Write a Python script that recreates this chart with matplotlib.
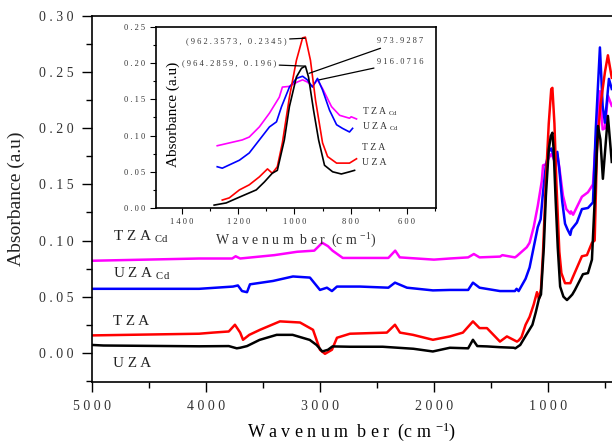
import numpy as np
import matplotlib
matplotlib.use('Agg')
import matplotlib.pyplot as plt
from matplotlib.ticker import MultipleLocator

plt.rcParams['font.family'] = ['Liberation Serif', 'DejaVu Serif']
plt.rcParams['mathtext.default'] = 'regular'

# UZA (black)
wn_uza = [5000, 4900, 4060, 3800, 3730, 3700, 3640, 3530, 3380, 3240, 3090, 3030, 2980, 2930, 2890,
          2740, 2450, 2180, 2010, 1860, 1700, 1658, 1620, 1535, 1420, 1300,
          1286, 1243, 1196, 1136, 1107, 1079, 1061, 1036, 1018, 993, 975, 961, 950, 932, 914, 893,
          864, 833, 804, 786, 763, 693, 649, 614, 588, 561, 540, 518, 474, 440]
a_uza = [0.007, 0.0065, 0.0058, 0.006, 0.004, 0.0045, 0.006, 0.0115, 0.016, 0.016, 0.0115, 0.007, 0.0012, 0.0027, 0.0057,
         0.0054, 0.0054, 0.0036, 0.0012, 0.0045, 0.004, 0.0116, 0.006, 0.0057, 0.005, 0.0045,
         0.004, 0.007, 0.015, 0.025, 0.036, 0.048, 0.052, 0.094, 0.140, 0.181, 0.193, 0.196, 0.181, 0.135, 0.094, 0.059,
         0.050, 0.047, 0.050, 0.052, 0.056, 0.070, 0.071, 0.083, 0.140, 0.202, 0.190, 0.155, 0.211, 0.170]

# TZA (red)
wn_tza = [5000, 4060, 3940, 3800, 3746, 3700, 3675, 3620, 3526, 3351, 3175, 3061, 3000, 2956, 2895, 2851,
          2737, 2413, 2342, 2298, 2184, 2009, 1860, 1746, 1658, 1600, 1535, 1421, 1360, 1272,
          1257, 1232, 1196, 1161, 1125, 1096, 1079, 1061, 1043, 1018, 993, 971, 961, 943, 925, 900,
          882, 850, 804, 779, 702, 658, 614, 590, 570, 540, 500, 474, 440]
a_tza = [0.0155, 0.017, 0.018, 0.019, 0.025, 0.018, 0.0116, 0.016, 0.0205, 0.028, 0.027, 0.0205, 0.0027, -0.0009, 0.0027, 0.0134,
         0.017, 0.018, 0.025, 0.018, 0.016, 0.0116, 0.0146, 0.018, 0.028, 0.022, 0.022, 0.010, 0.0146, 0.010,
         0.011, 0.014, 0.025, 0.032, 0.043, 0.054, 0.048, 0.057, 0.090, 0.153, 0.204, 0.235, 0.236, 0.204, 0.149, 0.090,
         0.071, 0.062, 0.062, 0.068, 0.086, 0.087, 0.098, 0.100, 0.180, 0.220, 0.250, 0.265, 0.245]

# UZA_Cd (blue)
wn_uzacd = [5000, 4060, 3763, 3720, 3684, 3640, 3614, 3412, 3237, 3088, 3000, 2939, 2895, 2851, 2649,
            2400, 2342, 2237, 2009, 1860, 1700, 1658, 1600, 1421, 1290,
            1275, 1257, 1196, 1161, 1125, 1089, 1064, 1046, 1018, 993, 971, 954, 936, 918, 900, 875,
            850, 829, 804, 793, 746, 702, 649, 605, 580, 544, 520, 500, 465, 440]
a_uzacd = [0.057, 0.057, 0.059, 0.060, 0.055, 0.054, 0.061, 0.064, 0.068, 0.067, 0.056, 0.058, 0.055, 0.059, 0.059,
           0.058, 0.0625, 0.058, 0.0556, 0.056, 0.056, 0.0625, 0.058, 0.055, 0.055,
           0.057, 0.055, 0.066, 0.076, 0.094, 0.112, 0.119, 0.140, 0.167, 0.179, 0.182, 0.177, 0.167, 0.179, 0.163, 0.135,
           0.115, 0.110, 0.105, 0.110, 0.116, 0.128, 0.129, 0.134, 0.200, 0.272, 0.220, 0.205, 0.244, 0.235]

# TZA_Cd (magenta)
wn_tzacd = [5000, 4060, 3770, 3740, 3700, 3400, 3200, 3050, 2980, 2930, 2890, 2800, 2400, 2340, 2300,
            2000, 1860, 1700, 1650, 1600, 1420, 1400, 1290,
            1275, 1186, 1161, 1125, 1089, 1054, 1043, 1018, 990, 971, 954, 936, 918, 900, 868,
            839, 804, 798, 779, 702, 649, 605, 580, 544, 520, 500, 474, 440]
a_tzacd = [0.082, 0.084, 0.084, 0.086, 0.084, 0.087, 0.090, 0.091, 0.098, 0.095, 0.091, 0.0845, 0.0845, 0.091, 0.085,
           0.083, 0.084, 0.085, 0.088, 0.085, 0.0857, 0.087, 0.085,
           0.086, 0.094, 0.098, 0.112, 0.131, 0.153, 0.167, 0.168, 0.174, 0.177, 0.174, 0.168, 0.177, 0.165, 0.140,
           0.128, 0.124, 0.126, 0.123, 0.139, 0.143, 0.150, 0.190, 0.233, 0.199, 0.200, 0.229, 0.220]

series = [
    ('TZA_Cd', wn_tzacd, a_tzacd, '#ff00ff', (1275, 779)),
    ('UZA_Cd', wn_uzacd, a_uzacd, '#0000ff', (1275, 793)),
    ('TZA', wn_tza, a_tza, '#ff0000', (1257, 779)),
    ('UZA', wn_uza, a_uza, '#000000', (1286, 786)),
]

main_xticks = [5000, 4000, 3000, 2000, 1000]
main_yticks = [0.00, 0.05, 0.10, 0.15, 0.20, 0.25, 0.30]
inset_xticks = [1400, 1200, 1000, 800, 600]
inset_yticks = [0.00, 0.05, 0.10, 0.15, 0.20, 0.25]


def spaced(s):
    return ' '.join(s)


fig = plt.figure(figsize=(6.12, 4.47), dpi=100)
ax = fig.add_axes([92 / 612, 65 / 447, 520 / 612, 366 / 447])

for name, wn, a, c, rng in series:
    ax.plot(wn, a, color=c, lw=1.8)

ax.set_xlim(5000, 438)
ax.set_ylim(-0.026, 0.30)
ax.set_xticks(main_xticks)
ax.set_xticklabels([spaced(str(t)) for t in main_xticks])
ax.set_yticks(main_yticks)
ax.set_yticklabels([spaced(f'{t:.2f}') for t in main_yticks])
ax.xaxis.set_minor_locator(MultipleLocator(500))
ax.yaxis.set_minor_locator(MultipleLocator(0.025))
ax.tick_params(which='major', direction='out', length=7, width=1, labelsize=10, labelcolor='#333333', pad=6)
ax.tick_params(which='minor', direction='out', length=4, width=1)
ax.spines['right'].set_visible(False)
for sp in ['left', 'bottom', 'top']:
    ax.spines[sp].set_linewidth(1.2)
ax.set_xlabel('W a v e n u m  b e r  (c m $^{-1}$)', fontsize=13, labelpad=5)
ax.set_ylabel('Absorbance (a.u)', fontsize=14, labelpad=10, color='#222222')

main_labels = [('T Z A', '$_{Cd}$', 0.1036), ('U Z A', '$_{Cd}$', 0.0705),
               ('T Z A', '', 0.0277), ('U Z A', '', -0.0098)]
for base, sub, y in main_labels:
    ax.text(4815, y, base + (' ' + sub if sub else ''), fontsize=11, va='center', ha='left', color='#222222')

# inset
ax_in = fig.add_axes([156 / 612, (447 - 208) / 447, 280 / 612, 181 / 447])
for name, wn, a, c, rng in series:
    wn_arr = np.array(wn)
    a_arr = np.array(a)
    m = (wn_arr <= rng[0]) & (wn_arr >= rng[1])
    ax_in.plot(wn_arr[m], a_arr[m], color=c, lw=1.2)

ax_in.set_xlim(1493, 496)
ax_in.set_ylim(0, 0.25)
ax_in.set_xticks(inset_xticks)
ax_in.set_xticklabels([spaced(str(t)) for t in inset_xticks])
ax_in.set_yticks(inset_yticks)
ax_in.set_yticklabels([spaced(f'{t:.2f}') for t in inset_yticks])
ax_in.xaxis.set_minor_locator(MultipleLocator(100))
ax_in.yaxis.set_minor_locator(MultipleLocator(0.025))
ax_in.tick_params(which='major', direction='out', length=4, width=0.8, labelsize=6, labelcolor='#333333')
ax_in.tick_params(which='minor', direction='out', length=2, width=0.8)
for sp in ax_in.spines.values():
    sp.set_linewidth(1.2)
ax_in.set_xlabel('W a v e n u m  b e r  (c m $^{-1}$)', fontsize=10, labelpad=4, color='#333333')
ax_in.text(0.06, 0.52, 'Absorbance (a.u)', rotation=90, transform=ax_in.transAxes,
           fontsize=11, va='center', ha='center')

ann_kw = dict(fontsize=6, color='#333333', va='center',
              arrowprops=dict(arrowstyle='-', color='black', lw=0.9, shrinkA=0, shrinkB=0))
ax_in.annotate(spaced('(962.3573, 0.2345)'), xy=(962.36, 0.2345), xytext=(1027, 0.230), ha='right', **ann_kw)
ax_in.annotate(spaced('(964.2859, 0.196)'), xy=(964.29, 0.196), xytext=(1064, 0.200), ha='right', **ann_kw)
ax_in.annotate(spaced('973.9287'), xy=(948, 0.186), xytext=(707, 0.230), ha='left', **ann_kw)
ax_in.annotate(spaced('916.0716'), xy=(912, 0.177), xytext=(707, 0.201), ha='left', **ann_kw)

inset_labels = [('T Z A', '$_{Cd}$', 0.1326), ('U Z A', '$_{Cd}$', 0.112),
                ('T Z A', '', 0.084), ('U Z A', '', 0.0635)]
for base, sub, y in inset_labels:
    ax_in.text(761, y, base + (' ' + sub if sub else ''), fontsize=7, va='center', ha='left', color='#333333')

fig.savefig('out.png', dpi=100)
